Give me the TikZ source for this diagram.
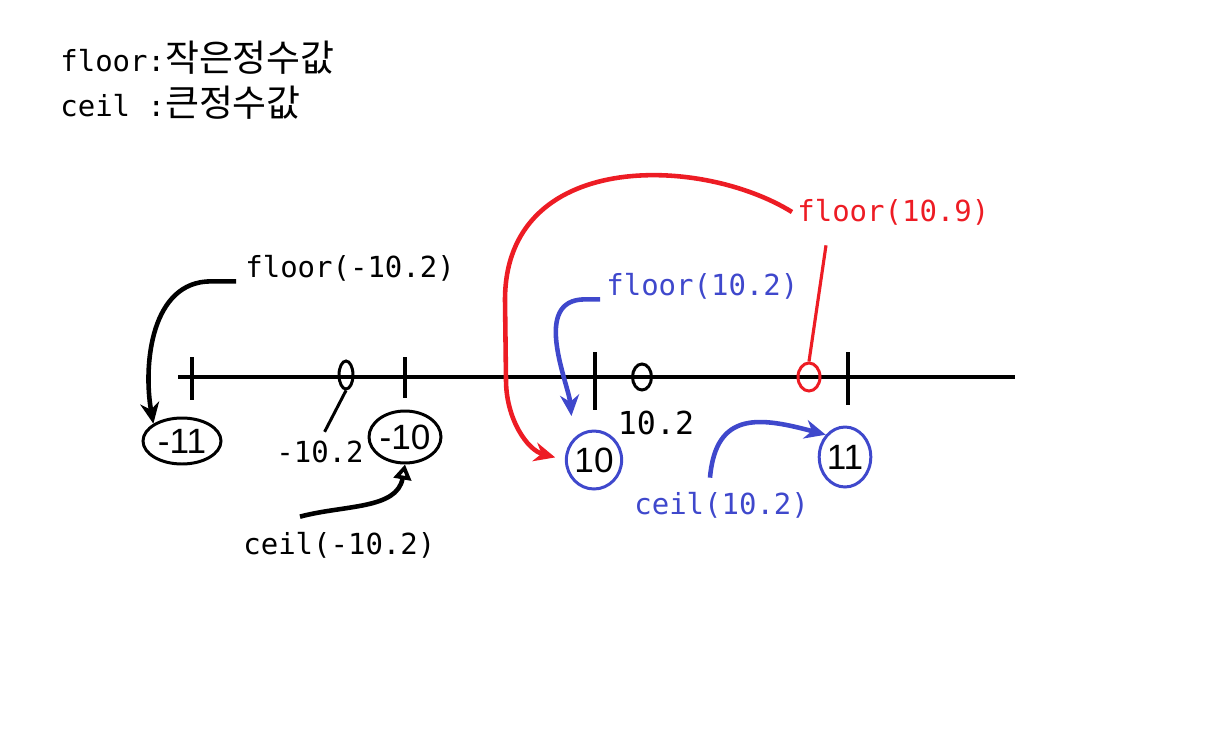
\documentclass[tikz,border=0pt]{standalone}
\usepackage{fontspec}
\setmainfont{Liberation Sans}
\setmonofont{DejaVu Sans Mono}
\newfontfamily\korfont{Noto Sans CJK KR}
\usetikzlibrary{shapes.geometric,arrows.meta,positioning}
\definecolor{penred}{RGB}{237,28,36}
\definecolor{penblue}{RGB}{63,72,204}

\begin{document}
\begin{tikzpicture}[
  x=0.02cm, y=-0.02cm,
  txt/.style={font=\ttfamily\fontsize{16.5}{20}\selectfont, inner sep=0pt},
  legend/.style={txt, anchor=west},
  answer/.style={ellipse, draw, line width=1.7pt, inner sep=0pt,
    font=\fontsize{20}{20}\selectfont},
  point/.style={ellipse, draw, line width=1.7pt, inner sep=0pt},
  pen/.style={line width=2.6pt, -{Stealth[length=4.2mm, width=3.8mm]}},
  axis/.style={line width=2.3pt},
]
  \useasboundingbox (0,0) rectangle (1223,737);

  % legend
  \node[legend] (lfloor) at (60,58) {floor:{\korfont\fontsize{21}{21}\selectfont 작은정수값}};
  \node[legend] (lceil) at (60,103) {ceil :{\korfont\fontsize{21}{21}\selectfont 큰정수값}};

  % number line and ticks
  \draw[axis] (178,377) -- (1015,377);
  \foreach \x/\a/\b in {192/357/400, 405/357/398, 595/352/410, 848/352/405}
    \draw[axis] (\x,\a) -- (\x,\b);

  % values on the line
  \node[point, minimum width=0.28cm, minimum height=0.56cm] (pt1) at (346,375) {};
  \node[point, minimum width=0.38cm, minimum height=0.52cm] (pt2) at (642,377) {};
  \node[point, draw=penred, minimum width=0.44cm, minimum height=0.56cm] (pt3) at (809,377) {};
  \node[txt] (lab1) at (320,452) {-10.2};
  \node[txt, font=\ttfamily\fontsize{18}{20}\selectfont] (lab2) at (656,423) {10.2};

  % results
  \node[answer, minimum width=1.56cm, minimum height=0.92cm] (m11) at (182,441) {-11};
  \node[answer, minimum width=1.44cm, minimum height=1.04cm] (m10) at (405,437) {-10};
  \node[answer, draw=penblue, minimum width=1.0cm, minimum height=1.16cm] (p10) at (594,460) {10};
  \node[answer, draw=penblue, minimum width=1.0cm, minimum height=1.2cm] (p11) at (845,457) {11};

  % calls
  \node[legend] (fm) at (245,268) {floor(-10.2)};
  \node[legend] (cm) at (243,545) {ceil(-10.2)};
  \node[legend, text=penblue] (fp) at (606,286) {floor(10.2)};
  \node[legend, text=penblue] (cp) at (634,505) {ceil(10.2)};
  \node[legend, text=penred] (fr) at (797,212) {floor(10.9)};

  \draw[line width=1.7pt, shorten >=0.2cm] (pt1.south) -- (lab1.north);
  \draw[pen] ([xshift=-0.18cm]fm.south west) -- ++(-25,0) to[out=180,in=100] (m11.north west);
  \draw[pen, -{Triangle[open, length=3mm, width=3.5mm]}] ([shift={(1.14cm,0.3cm)}]cm.north west) to[out=15,in=-100] (m10.south);
  \draw[pen, penblue, shorten >=0.45cm] ([xshift=-0.12cm]fp.south west) -- ++(-15,0) to[out=180,in=95] (p10.north west);
  \draw[pen, penblue] ([shift={(1.52cm,0.28cm)}]cp.north west) to[out=85,in=165,looseness=1.4] (p11.north west);
  \draw[pen, penred, shorten >=0.2cm] ([xshift=-0.1cm]fr.west) .. controls (700,155) and (505,150) .. (505,300) -- (506,380) to[out=-90,in=165] (p10.west);
  \draw[line width=1.8pt, penred] ([shift={(0.58cm,-0.4cm)}]fr.south west) -- (pt3.north);
\end{tikzpicture}
\end{document}
